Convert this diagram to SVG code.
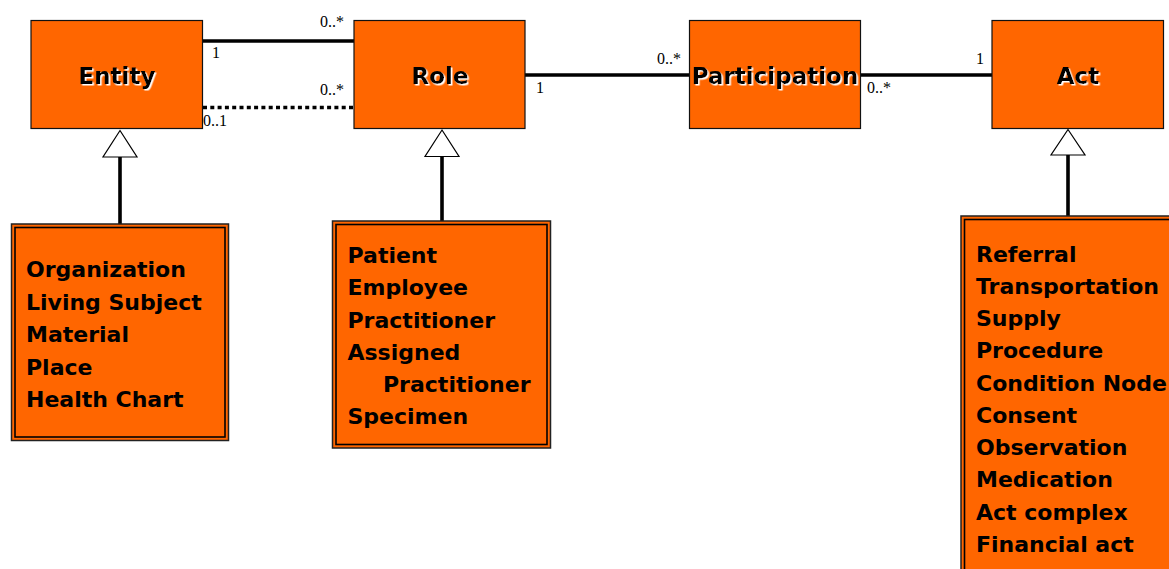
<svg xmlns="http://www.w3.org/2000/svg" width="1169" height="569" viewBox="0 0 1169 569">
  <style>
    .cls { fill: #FF6600; stroke: #111; stroke-width: 1.2; }
    .sub-outer { fill: #FF6600; stroke: #222; stroke-width: 1.5; }
    .sub-inner { fill: none; stroke: #000; stroke-width: 1.6; }
    .title { font-family: "Comic Sans MS", "DejaVu Sans", sans-serif; font-weight: bold; font-size: 23px; fill: #000; text-anchor: middle; filter: url(#halo); }
    .item { font-family: "Comic Sans MS", "DejaVu Sans", sans-serif; font-weight: bold; font-size: 22px; fill: #000; }
    .mult { font-family: "Liberation Serif", "Times New Roman", serif; font-size: 16px; fill: #000; }
    .assoc { stroke: #000; stroke-width: 3.6; fill: none; }
    .dotted { stroke-dasharray: 4 3.3; }
    .gen { stroke: #000; stroke-width: 3.6; }
    .tri { fill: #fff; stroke: #000; stroke-width: 1.2; }
  </style>
  <defs>
    <filter id="halo" x="-10%" y="-20%" width="130%" height="150%">
      <feDropShadow dx="1.5" dy="1.5" stdDeviation="0" flood-color="#fff" flood-opacity="1"/>
    </filter>
  </defs>

  <rect width="1169" height="569" fill="#fff"/>

  <!-- associations and generalizations -->
  <g id="connectors">
    <line class="assoc" x1="203" y1="41" x2="354" y2="41"/>
    <line class="assoc dotted" x1="203" y1="107.5" x2="353" y2="107.5"/>
    <line class="assoc" x1="525" y1="75" x2="690" y2="75"/>
    <line class="assoc" x1="861" y1="75" x2="992" y2="75"/>

    <text class="mult" x="212" y="58">1</text>
    <text class="mult" x="320" y="27">0..*</text>
    <text class="mult" x="203" y="126">0..1</text>
    <text class="mult" x="320" y="95">0..*</text>
    <text class="mult" x="536" y="93">1</text>
    <text class="mult" x="657" y="64">0..*</text>
    <text class="mult" x="867" y="93">0..*</text>
    <text class="mult" x="976" y="64">1</text>

    <line class="gen" x1="120" y1="157" x2="120" y2="224"/>
    <polygon class="tri" points="120,130.5 137,157 103,157"/>
    <line class="gen" x1="442" y1="156.5" x2="442" y2="222"/>
    <polygon class="tri" points="442,130 459,156.5 425,156.5"/>
    <line class="gen" x1="1068" y1="155" x2="1068" y2="221"/>
    <polygon class="tri" points="1068,129.5 1085,155 1051,155"/>
  </g>

  <g id="entity">
    <rect class="cls" x="31" y="20.5" width="171.5" height="108"/>
    <text class="title" x="117" y="84">Entity</text>
  </g>

  <g id="role">
    <rect class="cls" x="354" y="20.5" width="171" height="108"/>
    <text class="title" x="440" y="84">Role</text>
  </g>

  <g id="participation">
    <rect class="cls" x="689.5" y="20.5" width="171" height="108"/>
    <text class="title" x="775" y="84">Participation</text>
  </g>

  <g id="act">
    <rect class="cls" x="992" y="20.5" width="171.5" height="108"/>
    <text class="title" x="1078" y="84">Act</text>
  </g>

  <g id="entity-kinds">
    <rect class="sub-outer" x="11.5" y="224" width="217" height="216.5"/>
    <rect class="sub-inner" x="15" y="227.5" width="210" height="209.5"/>
    <text class="item" x="26" y="277">Organization</text>
    <text class="item" x="26" y="309.5">Living Subject</text>
    <text class="item" x="26" y="342">Material</text>
    <text class="item" x="26" y="374.5">Place</text>
    <text class="item" x="26" y="407">Health Chart</text>
  </g>

  <g id="role-kinds">
    <rect class="sub-outer" x="332.5" y="221" width="218" height="227"/>
    <rect class="sub-inner" x="336" y="224.5" width="211" height="220"/>
    <text class="item" x="347.5" y="263">Patient</text>
    <text class="item" x="347.5" y="295">Employee</text>
    <text class="item" x="347.5" y="327.5">Practitioner</text>
    <text class="item" x="347.5" y="359.5">Assigned</text>
    <text class="item" x="383" y="392">Practitioner</text>
    <text class="item" x="347.5" y="424">Specimen</text>
  </g>

  <g id="act-kinds">
    <rect class="sub-outer" x="961" y="216" width="222" height="370"/>
    <rect class="sub-inner" x="964.5" y="219.5" width="215" height="363"/>
    <text class="item" x="976" y="261.5">Referral</text>
    <text class="item" x="976" y="293.5">Transportation</text>
    <text class="item" x="976" y="326">Supply</text>
    <text class="item" x="976" y="358">Procedure</text>
    <text class="item" x="976" y="390.5">Condition Node</text>
    <text class="item" x="976" y="422.5">Consent</text>
    <text class="item" x="976" y="455">Observation</text>
    <text class="item" x="976" y="487">Medication</text>
    <text class="item" x="976" y="519.5">Act complex</text>
    <text class="item" x="976" y="551.5">Financial act</text>
  </g>
</svg>
